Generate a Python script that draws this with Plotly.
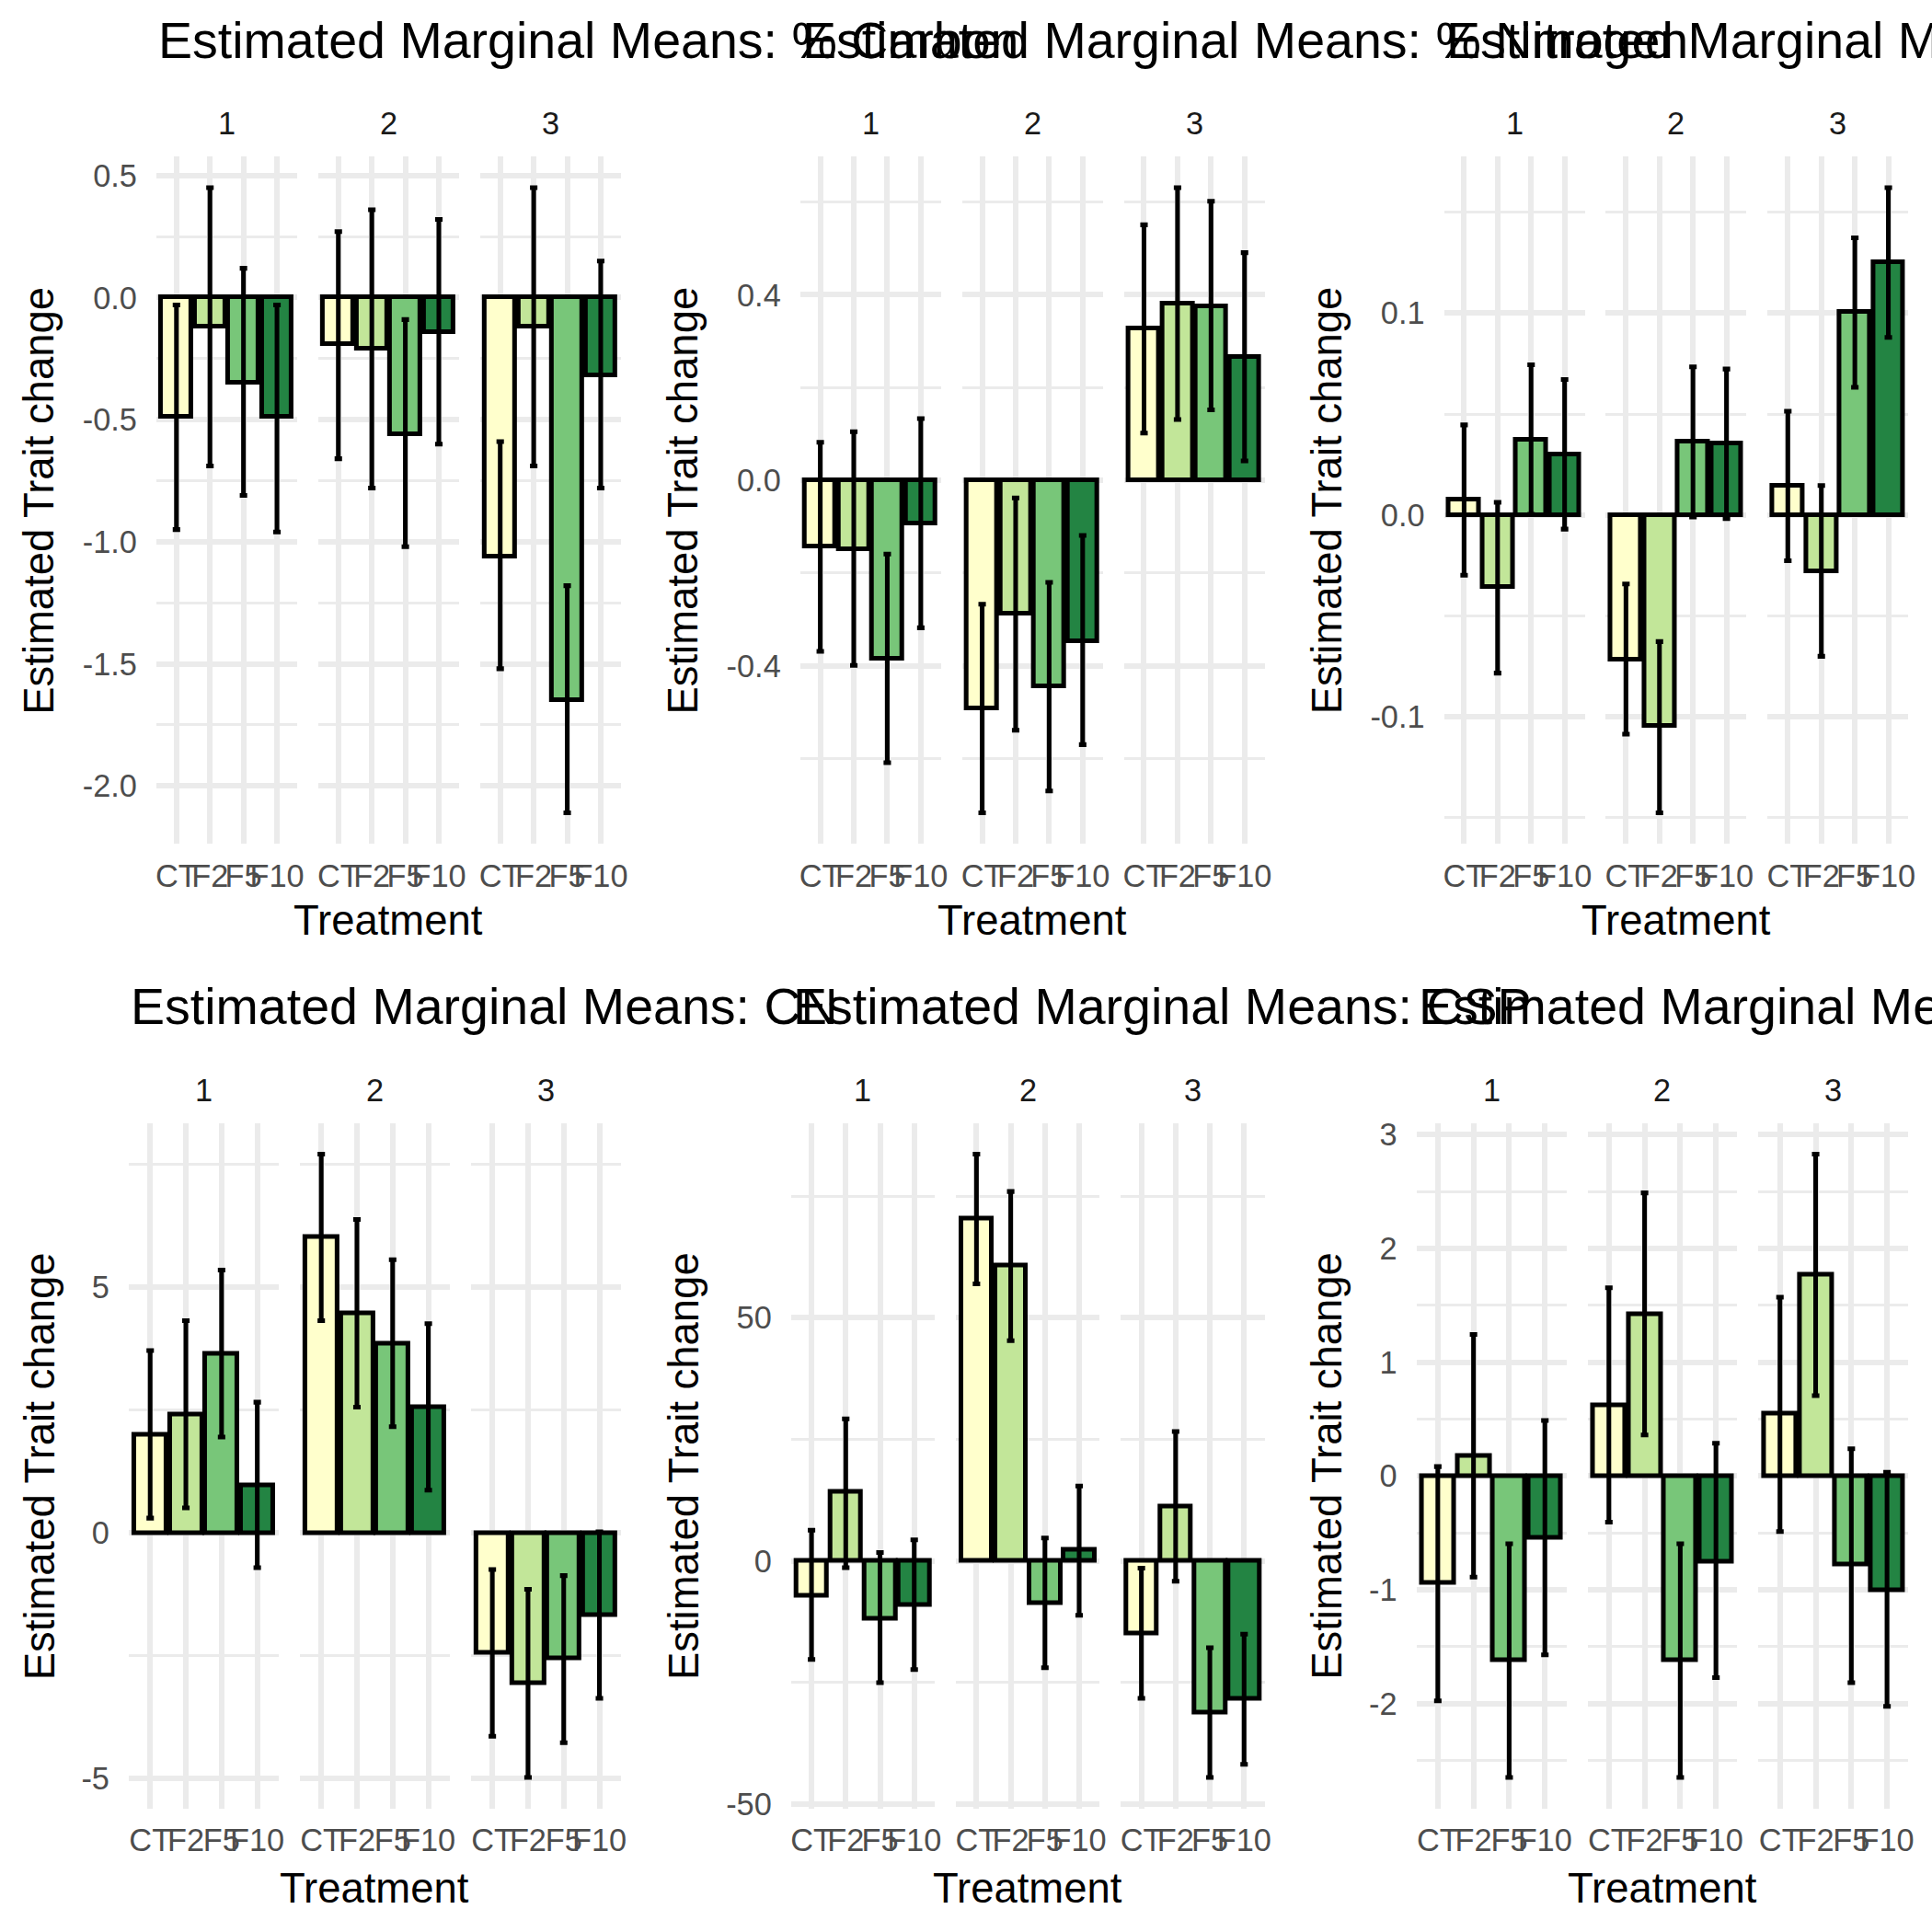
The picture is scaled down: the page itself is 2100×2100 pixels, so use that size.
import plotly.graph_objects as go

# ---------------- data ----------------
treatments = ["CT", "F2", "F5", "F10"]
facets = ["1", "2", "3"]
bar_colors = ["#FFFFCC", "#C2E699", "#78C679", "#238443"]

titles = [
    "Estimated Marginal Means: % Carbon",
    "Estimated Marginal Means: % Nitrogen",
    "Estimated Marginal Means: % Sulfur",
    "Estimated Marginal Means: CN",
    "Estimated Marginal Means: CSP",
    "Estimated Marginal Means: SLA",
]

carbon_mean = [[-0.49, -0.12, -0.35, -0.49], [-0.19, -0.21, -0.56, -0.14], [-1.06, -0.12, -1.65, -0.32]]
carbon_low = [[-0.95, -0.69, -0.81, -0.96], [-0.66, -0.78, -1.02, -0.60], [-1.52, -0.69, -2.11, -0.78]]
carbon_high = [[-0.03, 0.45, 0.12, -0.03], [0.27, 0.36, -0.09, 0.32], [-0.59, 0.45, -1.18, 0.15]]

nitrogen_mean = [[-0.143, -0.148, -0.384, -0.094], [-0.492, -0.288, -0.445, -0.347], [0.328, 0.380, 0.376, 0.266]]
nitrogen_low = [[-0.369, -0.399, -0.609, -0.318], [-0.717, -0.539, -0.670, -0.570], [0.102, 0.131, 0.152, 0.042]]
nitrogen_high = [[0.082, 0.105, -0.159, 0.133], [-0.267, -0.038, -0.220, -0.119], [0.551, 0.631, 0.602, 0.491]]

third_mean = [[0.0076, -0.0358, 0.0373, 0.0300], [-0.0715, -0.1047, 0.0363, 0.0352], [0.0146, -0.0279, 0.1005, 0.1253]]
third_low = [[-0.0298, -0.0783, 0.0003, -0.0070], [-0.1086, -0.1475, -0.0010, -0.0018], [-0.0227, -0.0700, 0.0632, 0.0880]]
third_high = [[0.0446, 0.0063, 0.0744, 0.0671], [-0.0342, -0.0627, 0.0734, 0.0723], [0.0514, 0.0146, 0.1373, 0.1621]]

cn_mean = [[2.00, 2.40, 3.65, 0.97], [6.02, 4.47, 3.85, 2.55], [-2.45, -3.07, -2.56, -1.68]]
cn_low = [[0.30, 0.51, 1.95, -0.71], [4.32, 2.56, 2.16, 0.87], [-4.14, -4.98, -4.27, -3.37]]
cn_high = [[3.71, 4.32, 5.35, 2.66], [7.71, 6.38, 5.56, 4.26], [-0.745, -1.15, -0.87, 0.02]]

csp_mean = [[-7.2, 14.2, -11.9, -9.1], [70.4, 60.7, -8.7, 2.2], [-15.0, 11.2, -31.3, -28.5]]
csp_low = [[-20.3, -1.4, -25.1, -22.4], [57.0, 45.3, -22.0, -11.2], [-28.3, -4.2, -44.6, -41.9]]
csp_high = [[6.3, 29.2, 1.7, 4.3], [83.7, 76.0, 4.7, 15.4], [-1.5, 26.6, -17.9, -15.1]]

sixth_mean = [[-0.94, 0.18, -1.62, -0.54], [0.624, 1.424, -1.62, -0.751], [0.546, 1.766, -0.78, -1.00]]
sixth_low = [[-1.976, -0.888, -2.649, -1.571], [-0.405, 0.361, -2.649, -1.771], [-0.488, 0.707, -1.815, -2.024]]
sixth_high = [[0.083, 1.244, -0.595, 0.488], [1.654, 2.488, -0.595, 0.288], [1.571, 2.829, 0.239, 0.034]]

carbon_ticks = [-2.0, -1.5, -1.0, -0.5, 0.0, 0.5]
carbon_labels = ["-2.0", "-1.5", "-1.0", "-0.5", "0.0", "0.5"]
carbon_minor = [-2.25, -1.75, -1.25, -0.75, -0.25, 0.25]
nitrogen_ticks = [-0.4, 0.0, 0.4]
nitrogen_labels = ["-0.4", "0.0", "0.4"]
nitrogen_minor = [-0.6, -0.2, 0.2, 0.6]
third_ticks = [-0.1, 0.0, 0.1]
third_labels = ["-0.1", "0.0", "0.1"]
third_minor = [-0.15, -0.05, 0.05, 0.15]
cn_ticks = [-5, 0, 5]
cn_labels = ["-5", "0", "5"]
cn_minor = [-2.5, 2.5, 7.5]
csp_ticks = [-50, 0, 50]
csp_labels = ["-50", "0", "50"]
csp_minor = [-25, 25, 75]
sixth_ticks = [-2, -1, 0, 1, 2, 3]
sixth_labels = ["-2", "-1", "0", "1", "2", "3"]
sixth_minor = [-2.5, -1.5, -0.5, 0.5, 1.5, 2.5]

panels = [
    (carbon_mean, carbon_low, carbon_high, carbon_ticks, carbon_labels, carbon_minor),
    (nitrogen_mean, nitrogen_low, nitrogen_high, nitrogen_ticks, nitrogen_labels, nitrogen_minor),
    (third_mean, third_low, third_high, third_ticks, third_labels, third_minor),
    (cn_mean, cn_low, cn_high, cn_ticks, cn_labels, cn_minor),
    (csp_mean, csp_low, csp_high, csp_ticks, csp_labels, csp_minor),
    (sixth_mean, sixth_low, sixth_high, sixth_ticks, sixth_labels, sixth_minor),
]

# ---------------- layout geometry (target screen pixels) ----------------
W = H = 2100
FONT = "Liberation Sans"
# the photographed page is slightly shifted/scaled; compensate
SCALEX = 0.996
OFFX = 2.0
SCALEY = 0.990
OFFY = 6.0

panel_left = [[171, 871, 1571], [141, 861, 1541]]
panel_right = [676, 1376, 2076]
row_top = [170, 1220]
row_bottom = [917, 1965]
title_y = [44, 1093]
strip_y = [134, 1184]
xtitle_y = [1000, 2052]
ytitle_x = [44, 744, 1444]
GAP = 23

TICK_SIZE = 34
STRIP_SIZE = 34
AXTITLE_SIZE = 45
TITLE_SIZE = 55

GRID = "#EBEBEB"


def px_x(v):
    return ((v - OFFX) / SCALEX) / W


def px_y(v):
    return 1 - ((v - OFFY) / SCALEY) / H


def fs(v):
    return v / SCALEY


fig = go.Figure()
annotations = []

for p, (mean, low, high, ticks, labels, minor) in enumerate(panels):
    row, col = divmod(p, 3)
    left = panel_left[row][col]
    right = panel_right[col]
    fw = (right - left - 2 * GAP) / 3
    all_vals = [v for f in low for v in f] + [v for f in high for v in f] + [0]
    lo, hi = min(all_vals), max(all_vals)
    pad = 0.05 * (hi - lo)
    yrange = [lo - pad, hi + pad]
    for f in range(3):
        k = p * 3 + f + 1
        sfx = "" if k == 1 else str(k)
        x0 = left + f * (fw + GAP)
        x1 = x0 + fw
        fig.add_trace(go.Bar(
            x=treatments, y=mean[f], width=0.9,
            marker=dict(color=bar_colors, line=dict(color="black", width=fs(5))),
            error_y=dict(type="data", symmetric=False,
                         array=[h - m for h, m in zip(high[f], mean[f])],
                         arrayminus=[m - l for m, l in zip(mean[f], low[f])],
                         color="black", thickness=fs(5), width=fs(4)),
            xaxis="x" + sfx, yaxis="y" + sfx, showlegend=False,
        ))
        fig.layout["xaxis" + sfx] = dict(
            domain=[px_x(x0), px_x(x1)], anchor="y" + sfx,
            type="category", categoryorder="array", categoryarray=treatments,
            tickmode="array", tickvals=treatments, ticktext=treatments, tickangle=0,
            range=[-0.6, 3.6], showgrid=True, gridcolor=GRID, gridwidth=fs(5.5),
            zeroline=False, showline=False, ticks="",
            tickfont=dict(family=FONT, size=fs(TICK_SIZE), color="#4D4D4D"),
            ticklabelstandoff=11, fixedrange=True,
        )
        fig.layout["yaxis" + sfx] = dict(
            domain=[px_y(row_bottom[row]), px_y(row_top[row])], anchor="x" + sfx,
            range=yrange, tickmode="array", tickvals=ticks, ticktext=labels,
            showticklabels=(f == 0), showgrid=True, gridcolor=GRID, gridwidth=fs(5.5),
            minor=dict(tickmode="array", tickvals=minor, showgrid=True,
                       gridcolor=GRID, gridwidth=fs(3), ticks=""),
            zeroline=False, showline=False, ticks="",
            tickfont=dict(family=FONT, size=fs(TICK_SIZE), color="#4D4D4D"),
            ticklabelstandoff=20, fixedrange=True,
        )
        annotations.append(dict(
            text=facets[f], x=px_x((x0 + x1) / 2), y=px_y(strip_y[row]),
            xref="paper", yref="paper", xanchor="center", yanchor="middle",
            showarrow=False, font=dict(family=FONT, size=fs(STRIP_SIZE), color="#1A1A1A"),
        ))
    annotations.append(dict(
        text=titles[p], x=px_x(left), y=px_y(title_y[row]),
        xref="paper", yref="paper", xanchor="left", yanchor="middle",
        showarrow=False, font=dict(family=FONT, size=fs(TITLE_SIZE), color="black"),
    ))
    annotations.append(dict(
        text="Treatment", x=px_x((left + right) / 2), y=px_y(xtitle_y[row]),
        xref="paper", yref="paper", xanchor="center", yanchor="middle",
        showarrow=False, font=dict(family=FONT, size=fs(AXTITLE_SIZE), color="black"),
    ))
    annotations.append(dict(
        text="Estimated Trait change", x=px_x(ytitle_x[col]),
        y=px_y((row_top[row] + row_bottom[row]) / 2),
        xref="paper", yref="paper", xanchor="center", yanchor="middle",
        textangle=-90, showarrow=False,
        font=dict(family=FONT, size=fs(AXTITLE_SIZE), color="black"),
    ))

fig.update_layout(
    width=W, height=H, margin=dict(l=0, r=0, t=0, b=0),
    paper_bgcolor="white", plot_bgcolor="white",
    annotations=annotations, showlegend=False, bargap=0,
    font=dict(family=FONT),
)

fig.write_html("out.html", post_script="document.body.style.margin='0';")
